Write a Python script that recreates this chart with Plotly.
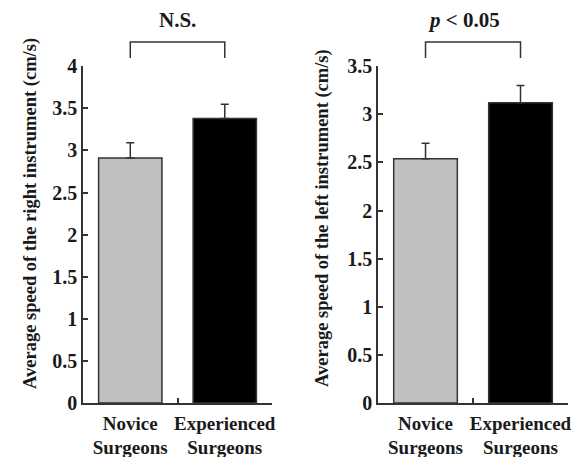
import plotly.graph_objects as go

categories = ["Novice<br>Surgeons", "Experienced<br>Surgeons"]
right_speed = [2.91, 3.38]
right_err = [0.18, 0.17]
left_speed = [2.54, 3.12]
left_err = [0.16, 0.18]
bar_colors = ["#c0c0c0", "#000000"]
right_ticks = [0, 0.5, 1, 1.5, 2, 2.5, 3, 3.5, 4]
left_ticks = [0, 0.5, 1, 1.5, 2, 2.5, 3, 3.5]
right_title = "Average speed of the right instrument (cm/s)"
left_title = "Average speed of the left instrument (cm/s)"
right_sig = "N.S."
left_sig = "<i>p</i> &lt; 0.05"

FONT = "Liberation Serif"

fig = go.Figure()
fig.add_trace(go.Bar(
    x=categories, y=right_speed, xaxis="x", yaxis="y",
    marker=dict(color=bar_colors, line=dict(color="#333333", width=1.5)),
    error_y=dict(type="data", array=right_err, arrayminus=[0, 0], symmetric=False,
                 color="#333333", thickness=1.5, width=4),
    showlegend=False,
))
fig.add_trace(go.Bar(
    x=categories, y=left_speed, xaxis="x2", yaxis="y2",
    marker=dict(color=bar_colors, line=dict(color="#333333", width=1.5)),
    error_y=dict(type="data", array=left_err, arrayminus=[0, 0], symmetric=False,
                 color="#333333", thickness=1.5, width=4),
    showlegend=False,
))

ydom = [0.1182, 0.855]
tickfont = dict(family=FONT, size=20, color="#1a1a1a")
axis_common = dict(showline=True, linecolor="#333333", linewidth=1.5, showgrid=False,
                   zeroline=False, ticks="inside", ticklen=5, tickcolor="#333333",
                   tickwidth=1.5, automargin=False, tickangle=0)
xfont = dict(family=FONT, size=19, color="#1a1a1a")

x_ticktext = ["<b>Novice</b><br><b>Surgeons</b>", "<b>Experienced</b><br><b>Surgeons</b>"]

fig.update_layout(
    width=588, height=457,
    margin=dict(l=0, r=0, t=0, b=0),
    paper_bgcolor="white", plot_bgcolor="white",
    bargap=0.33,
    font=dict(family=FONT, color="#1a1a1a"),
    xaxis=dict(domain=[0.1412, 0.4626], anchor="y", tickson="boundaries",
               tickvals=categories, ticktext=x_ticktext, tickfont=xfont,
               ticklabelstandoff=2, **axis_common),
    yaxis=dict(domain=ydom, anchor="x", range=[0, 4], tickvals=right_ticks,
               ticktext=[f"<b>{v:g}</b>" for v in right_ticks], tickfont=tickfont,
               **axis_common),
    xaxis2=dict(domain=[0.6429, 0.966], anchor="y2", tickson="boundaries",
                tickvals=categories, ticktext=x_ticktext, tickfont=xfont,
                ticklabelstandoff=2, **axis_common),
    yaxis2=dict(domain=ydom, anchor="x2", range=[0, 3.5], tickvals=left_ticks,
                ticktext=[f"<b>{v:g}</b>" for v in left_ticks], tickfont=tickfont,
                **axis_common),
)

# significance brackets
for xr in ["x", "x2"]:
    fig.add_shape(type="path", xref=xr, yref="paper",
                  path="M 0,0.873 L 0,0.908 L 1,0.908 L 1,0.873",
                  line=dict(color="#333333", width=1.5))

fig.add_annotation(text="<b>" + right_sig + "</b>", xref="x", yref="paper", x=0.5,
                   y=(457 - 20) / 457, xanchor="center", yanchor="middle",
                   showarrow=False, font=dict(family=FONT, size=21))
fig.add_annotation(text="<b>" + left_sig + "</b>", xref="x2", yref="paper", x=0.5,
                   y=(457 - 20) / 457, xanchor="center", yanchor="middle", xshift=-9,
                   showarrow=False, font=dict(family=FONT, size=21))

# axis titles
fig.add_annotation(text="<b>" + right_title + "</b>", xref="paper", yref="paper",
                   x=30 / 588, y=(457 - 214) / 457, xanchor="center", yanchor="middle",
                   textangle=-90, showarrow=False, font=dict(family=FONT, size=18.5))
fig.add_annotation(text="<b>" + left_title + "</b>", xref="paper", yref="paper",
                   x=322 / 588, y=(457 - 218) / 457, xanchor="center", yanchor="middle",
                   textangle=-90, showarrow=False, font=dict(family=FONT, size=18.5))

fig.write_html("out.html")
